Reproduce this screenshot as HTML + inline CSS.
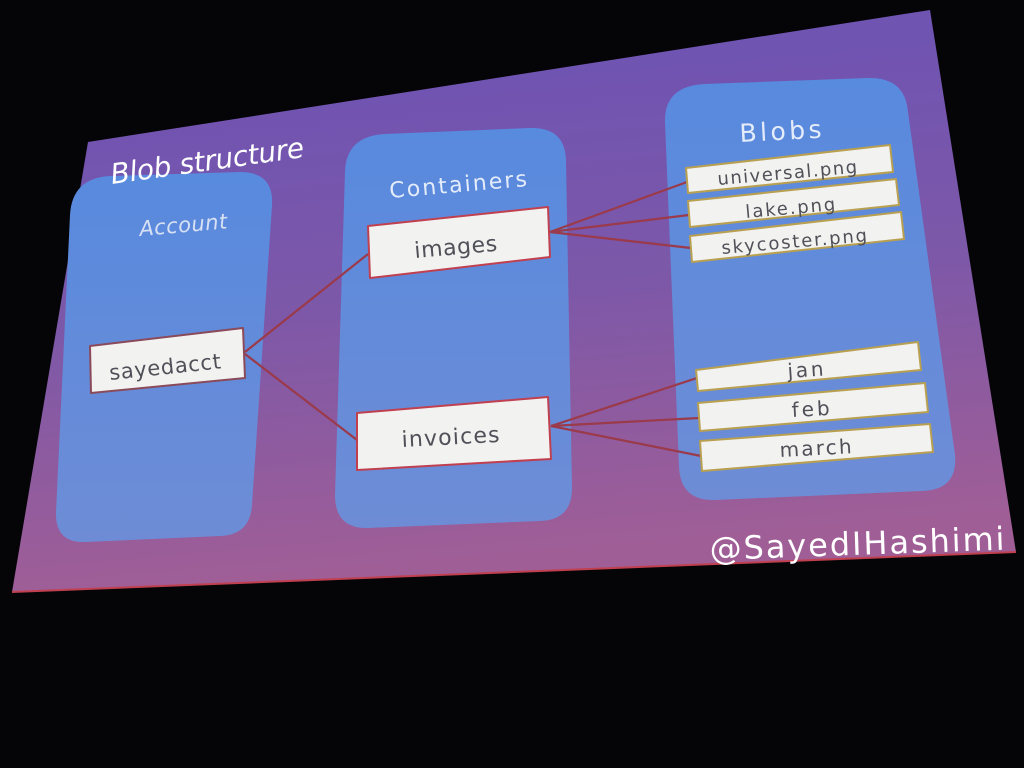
<!DOCTYPE html>
<html><head><meta charset="utf-8"><style>
html,body{margin:0;padding:0;background:#050508;}
svg{display:block}
text{font-family:"DejaVu Sans","Liberation Sans",sans-serif;}
</style></head><body>
<svg width="1024" height="768" viewBox="0 0 1024 768" xmlns="http://www.w3.org/2000/svg">
<defs>
<linearGradient id="bg" x1="0" y1="0" x2="0.15" y2="1">
<stop offset="0" stop-color="#6a52b6"/>
<stop offset="0.55" stop-color="#7d58a8"/>
<stop offset="1" stop-color="#a05e96"/>
</linearGradient>
<linearGradient id="pn" x1="0" y1="0" x2="0" y2="1">
<stop offset="0" stop-color="#588ade"/>
<stop offset="1" stop-color="#6e8cd6"/>
</linearGradient>
</defs>
<rect width="1024" height="768" fill="#050508"/>
<polygon points="88,142 930,10 1016,552 12,592" fill="url(#bg)"/>
<polyline points="1016,552 12,592" stroke="#c04050" stroke-width="2" fill="none"/>
<path d="M110,176 L240,172 Q274,172 272,205 L252,505 Q250,535 220,536 L85,542 Q55,543 56,512 L70,215 Q72,178 110,176 Z" fill="url(#pn)"/>
<path d="M385,134 L530,128 Q566,127 566,162 L572,488 Q572,520 540,521 L368,528 Q335,529 335,495 L345,172 Q346,136 385,134 Z" fill="url(#pn)"/>
<path d="M705,84 L868,78 Q905,77 908,112 L955,455 Q958,490 922,491 L715,500 Q680,501 679,466 L665,122 Q664,86 705,84 Z" fill="url(#pn)"/>
<g stroke="#9a3a4a" stroke-width="2.2" fill="none">
<line x1="245" y1="352" x2="368" y2="254"/>
<line x1="245" y1="354" x2="357" y2="440"/>
<line x1="550" y1="232" x2="687" y2="182"/>
<line x1="550" y1="232" x2="689" y2="215"/>
<line x1="550" y1="232" x2="691" y2="248"/>
<line x1="551" y1="426" x2="697" y2="378"/>
<line x1="551" y1="426" x2="699" y2="418"/>
<line x1="551" y1="426" x2="701" y2="456"/>
</g>
<g fill="#f2f2f0" stroke-width="2">
<polygon points="90,346 243,328 245,378 91,393" stroke="#8a4a5a" stroke-linejoin="round"/>
<polygon points="368,226 548,207 550,257 370,278" stroke="#c04050" stroke-linejoin="round"/>
<polygon points="357,413 548,397 551,459 357,470" stroke="#c04050" stroke-linejoin="round"/>
<g stroke="#b8a050" stroke-linejoin="round">
<polygon points="686,168 890,145 893,172 688,193"/>
<polygon points="688,201 896,179 899,205 690,227"/>
<polygon points="690,236 901,212 904,239 692,262"/>
<polygon points="696,370 918,342 921,370 698,391"/>
<polygon points="698,403 925,383 928,412 700,431"/>
<polygon points="700,441 930,424 933,452 702,471"/>
</g>
</g>
<g fill="#ffffff">
<text x="112" y="184" font-size="28" font-style="italic" transform="rotate(-8 112 184)" textLength="195">Blob structure</text>
<text x="140" y="236" font-size="21" font-style="italic" fill="#d8e0f4" transform="rotate(-5 140 236)" textLength="88">Account</text>
<text x="390" y="198" font-size="22" fill="#e4ecfa" transform="rotate(-5 390 198)" textLength="138">Containers</text>
<text x="740" y="142" font-size="25" fill="#e4ecfa" transform="rotate(-3 740 142)" textLength="82">Blobs</text>
<text x="710" y="560" font-size="32" transform="rotate(-2 710 560)" textLength="295">@SayedIHashimi</text>
</g>
<g fill="#505058">
<text x="110" y="380" font-size="21" transform="rotate(-6 110 380)" textLength="112">sayedacct</text>
<text x="415" y="258" font-size="22" transform="rotate(-5 415 258)" textLength="83">images</text>
<text x="402" y="447" font-size="22" transform="rotate(-3 402 447)" textLength="98">invoices</text>
<text x="718" y="185" font-size="18" transform="rotate(-5 718 185)" textLength="140">universal.png</text>
<text x="746" y="218" font-size="18" transform="rotate(-5 746 218)" textLength="90">lake.png</text>
<text x="722" y="254" font-size="18" transform="rotate(-5 722 254)" textLength="146">skycoster.png</text>
<text x="788" y="378" font-size="20" transform="rotate(-4 788 378)" textLength="36">jan</text>
<text x="792" y="417" font-size="20" transform="rotate(-3 792 417)" textLength="38">feb</text>
<text x="780" y="457" font-size="20" transform="rotate(-3 780 457)" textLength="72">march</text>
</g>
</svg>
</body></html>
